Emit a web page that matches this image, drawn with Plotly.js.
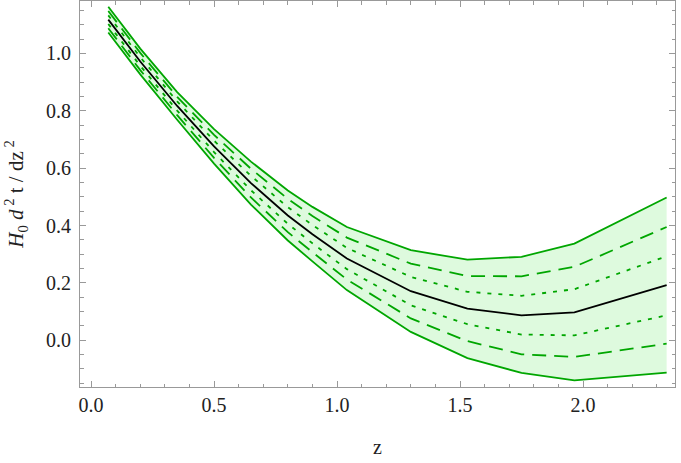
<!DOCTYPE html>
<html>
<head>
<meta charset="utf-8">
<script src="https://cdn.plot.ly/plotly-3.0.1.min.js"></script>
<style>html,body{margin:0;padding:0;background:#fff;}#chart{width:681px;height:463px;}</style>
</head>
<body>
<div id="chart"></div>
<script>
// redshift nodes
var z = [0.07, 0.2, 0.35, 0.5, 0.65, 0.8, 0.9, 1.04, 1.3, 1.53, 1.75, 1.965, 2.34];
// central reconstruction
var mean   = [1.118, 0.972, 0.817, 0.676, 0.548, 0.435, 0.370, 0.285, 0.171, 0.110, 0.087, 0.097, 0.192];
// 1 sigma
var upper1 = [1.133, 0.987, 0.833, 0.696, 0.573, 0.464, 0.402, 0.322, 0.221, 0.169, 0.155, 0.178, 0.293];
var lower1 = [1.103, 0.957, 0.801, 0.656, 0.523, 0.406, 0.338, 0.248, 0.122, 0.056, 0.020, 0.017, 0.087];
// 2 sigma
var upper2 = [1.148, 1.002, 0.849, 0.716, 0.598, 0.493, 0.433, 0.358, 0.267, 0.224, 0.223, 0.256, 0.395];
var lower2 = [1.088, 0.942, 0.785, 0.636, 0.498, 0.377, 0.307, 0.212, 0.076, -0.003, -0.049, -0.058, -0.012];
// 3 sigma
var upper3 = [1.163, 1.017, 0.865, 0.736, 0.623, 0.522, 0.465, 0.395, 0.314, 0.281, 0.291, 0.337, 0.498];
var lower3 = [1.073, 0.927, 0.769, 0.616, 0.473, 0.348, 0.275, 0.175, 0.029, -0.062, -0.114, -0.140, -0.113];

var green = 'rgb(0,166,0)';
var fillc = 'rgb(222,250,222)';
var lw = 1.8;

var traces = [
  {x: z, y: lower3, mode: 'lines', line: {color: green, width: lw}, hoverinfo: 'skip'},
  {x: z, y: upper3, mode: 'lines', line: {color: green, width: lw}, fill: 'tonexty', fillcolor: fillc, hoverinfo: 'skip'},
  {x: z, y: upper2, mode: 'lines', line: {color: green, width: lw, dash: '14px,8px'}},
  {x: z, y: lower2, mode: 'lines', line: {color: green, width: lw, dash: '14px,8px'}},
  {x: z, y: upper1, mode: 'lines', line: {color: green, width: lw, dash: '4px,7px'}},
  {x: z, y: lower1, mode: 'lines', line: {color: green, width: lw, dash: '4px,7px'}},
  {x: z, y: mean, mode: 'lines', line: {color: '#000', width: lw}}
];

var layout = {
  width: 681, height: 463,
  margin: {l: 80, r: 6, t: 1, b: 76},
  paper_bgcolor: '#fff', plot_bgcolor: '#fff',
  showlegend: false,
  font: {family: 'Liberation Serif', size: 20, color: '#222'},
  xaxis: {
    showline: true, linecolor: '#999', linewidth: 1, mirror: 'ticks',
    ticks: 'inside', ticklen: 6, tickcolor: '#999', tickwidth: 1,
    showgrid: false, zeroline: false, tickformat: '.1f',
    tickfont: {family: 'Liberation Serif', size: 20, color: '#222'},
    range: [-0.045, 2.374], dtick: 0.5, tick0: 0,
    minor: {dtick: 0.1, ticks: 'inside', ticklen: 3.5, tickcolor: '#999', showgrid: false},
    title: {text: 'z', font: {family: 'Liberation Serif', size: 20, color: '#222'}, standoff: 24}
  },
  yaxis: {
    showline: true, linecolor: '#999', linewidth: 1, mirror: 'ticks',
    ticks: 'inside', ticklen: 6, tickcolor: '#999', tickwidth: 1,
    showgrid: false, zeroline: false, tickformat: '.1f',
    tickfont: {family: 'Liberation Serif', size: 20, color: '#222'},
    ticklabelstandoff: 4,
    range: [-0.163, 1.183], dtick: 0.2, tick0: 0,
    minor: {dtick: 0.05, ticks: 'inside', ticklen: 3.5, tickcolor: '#999', showgrid: false},
    title: {text: '<i>H</i><sub>0</sub> <i>d</i><sup> 2</sup> t / dz<sup> 2</sup>', font: {family: 'Liberation Serif', size: 21, color: '#222'}, standoff: 16}
  }
};

Plotly.newPlot('chart', traces, layout, {displayModeBar: false, staticPlot: true});
</script>
</body>
</html>
